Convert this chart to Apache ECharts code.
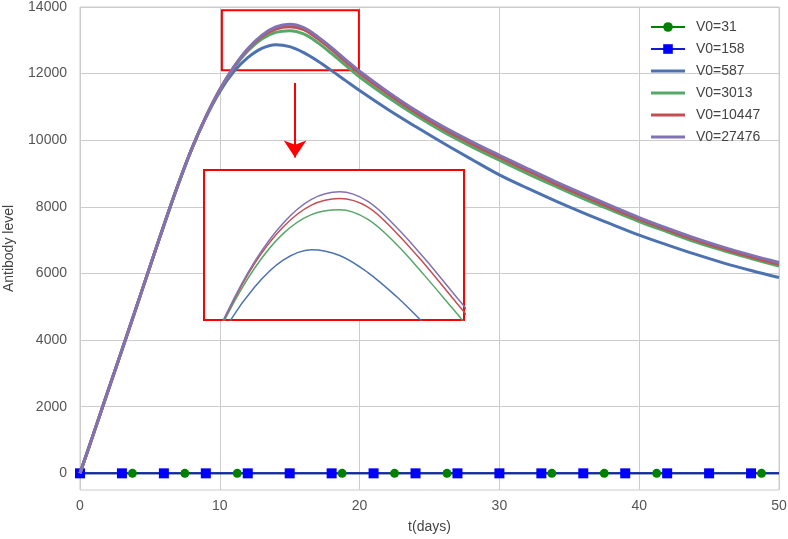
<!DOCTYPE html>
<html>
<head>
<meta charset="utf-8">
<script src="https://cdn.jsdelivr.net/npm/echarts@6/dist/echarts.min.js"></script>
<style>
  html, body { margin: 0; padding: 0; background: #fff; }
  #chart { width: 788px; height: 539px; }
</style>
</head>
<body>
<div id="chart"></div>
<script>
// time axis (days) for the smooth curves
const days = [0, 1, 2, 3, 4, 5, 6, 7, 8, 9, 10, 11, 12, 13, 14, 15, 16, 17, 18, 19, 20,
  22, 24, 26, 28, 30, 32, 34, 36, 38, 40, 42, 44, 46, 48, 50];

const v587 = [0, 1230, 2470, 3700, 4950, 6200, 7450, 8650, 9750, 10680, 11460, 12060, 12480, 12760, 12870, 12810,
  12630, 12380, 12090, 11790, 11490, 10930, 10410, 9910, 9430, 8960, 8560, 8180, 7820, 7480, 7150, 6860, 6580,
  6320, 6090, 5880];
const v3013 = [0, 1230, 2470, 3700, 4950, 6200, 7450, 8650, 9750, 10700, 11510, 12170, 12680, 13040, 13240, 13290,
  13190, 12930, 12600, 12250, 11900, 11300, 10750, 10250, 9810, 9400, 9000, 8620, 8250, 7900, 7560, 7250, 6950,
  6690, 6450, 6220];
const v10447 = [0, 1230, 2470, 3700, 4950, 6200, 7450, 8650, 9750, 10700, 11520, 12190, 12730, 13110, 13340, 13410,
  13320, 13050, 12720, 12360, 12010, 11400, 10840, 10340, 9900, 9490, 9090, 8700, 8330, 7970, 7630, 7310, 7010,
  6740, 6500, 6280];
const v27476 = [0, 1230, 2470, 3700, 4950, 6200, 7450, 8650, 9750, 10700, 11520, 12200, 12750, 13150, 13400, 13480,
  13380, 13110, 12780, 12420, 12070, 11460, 10900, 10400, 9960, 9550, 9150, 8760, 8390, 8030, 7680, 7360, 7060,
  6790, 6550, 6330];

// the two small doses stay at zero; markers sit on these days
const days31 = [0, 3.75, 7.5, 11.25, 15, 18.75, 22.5, 26.25, 30, 33.75, 37.5, 41.25, 45, 48.75, 50];
const v31 = [0, 0, 0, 0, 0, 0, 0, 0, 0, 0, 0, 0, 0, 0, 0];
const days158 = [0, 3, 6, 9, 12, 15, 18, 21, 24, 27, 30, 33, 36, 39, 42, 45, 48, 50];
const v158 = [0, 0, 0, 0, 0, 0, 0, 0, 0, 0, 0, 0, 0, 0, 0, 0, 0, 0];

const xTicks = [0, 10, 20, 30, 40, 50];
const yTicks = [0, 2000, 4000, 6000, 8000, 10000, 12000, 14000];

// zoom annotation (data units)
const zoomBox = [[10.15, 13900], [19.95, 12100]];
const arrowLine = [[15.38, 11720], [15.38, 9480]];
const insetX = [10.2, 19.4];
const insetY = [12130, 13710];

const font = 'Liberation Sans, Arial, sans-serif';
const gridColor = '#cccccc';
const colors = {
  v587: '#4C72B0',
  v3013: '#55A868',
  v10447: '#C44E52',
  v27476: '#8172B2'
};
const lineIcon = 'path://M0,0 L34,0 L34,3 L0,3 Z';

const pairs = (xs, ys) => xs.map((x, i) => [x, ys[i]]);
const markerPairs = (xs, ys) => xs.map((x, i) => (
  i === xs.length - 1 ? { value: [x, ys[i]], symbol: 'none' } : [x, ys[i]]
));

const chart = echarts.init(document.getElementById('chart'));

const curves = [
  { name: 'V0=587', data: v587, color: colors.v587 },
  { name: 'V0=3013', data: v3013, color: colors.v3013 },
  { name: 'V0=10447', data: v10447, color: colors.v10447 },
  { name: 'V0=27476', data: v27476, color: colors.v27476 }
];

const mainCurves = curves.map((c, i) => {
  const s = {
    name: c.name,
    type: 'line',
    xAxisIndex: 0,
    yAxisIndex: 0,
    data: pairs(days, c.data),
    smooth: 0.35,
    showSymbol: false,
    symbol: 'none',
    color: c.color,
    lineStyle: { width: 3, color: c.color },
    z: 3 + i
  };
  if (i === curves.length - 1) {
    s.markArea = {
      silent: true,
      itemStyle: { color: 'rgba(0,0,0,0)', borderColor: '#ff0000', borderWidth: 2 },
      data: [[{ coord: zoomBox[0] }, { coord: zoomBox[1] }]]
    };
    s.markLine = {
      silent: true,
      symbol: ['none', 'arrow'],
      symbolSize: 17,
      label: { show: false },
      lineStyle: { color: '#ff0000', width: 2, type: 'solid' },
      data: [[{ coord: arrowLine[0] }, { coord: arrowLine[1] }]]
    };
  }
  return s;
});

const insetCurves = curves.map((c, i) => ({
  name: c.name,
  type: 'line',
  xAxisIndex: 1,
  yAxisIndex: 1,
  data: pairs(days, c.data),
  smooth: 0.35,
  showSymbol: false,
  symbol: 'none',
  color: c.color,
  clip: true,
  lineStyle: { width: 1.5, color: c.color },
  z: 10 + i
}));

const option = {
  animation: false,
  backgroundColor: '#ffffff',
  textStyle: { fontFamily: font },
  legend: {
    orient: 'vertical',
    left: 645,
    top: 15,
    itemWidth: 34,
    itemHeight: 12,
    itemGap: 8,
    data: [
      { name: 'V0=31' },
      { name: 'V0=158' },
      { name: 'V0=587', icon: lineIcon },
      { name: 'V0=3013', icon: lineIcon },
      { name: 'V0=10447', icon: lineIcon },
      { name: 'V0=27476', icon: lineIcon }
    ],
    textStyle: { fontFamily: font, fontSize: 14, color: '#444', padding: [0, 0, 0, 6] }
  },
  grid: [
    {
      left: 80, top: 7, right: 9, bottom: 49,
      outerBoundsMode: 'none',
      containLabel: false,
      show: true, borderColor: gridColor, borderWidth: 1, backgroundColor: '#ffffff'
    },
    {
      left: 204, top: 170, width: 260, height: 150, z: 5,
      outerBoundsMode: 'none',
      containLabel: false,
      show: true, borderColor: '#ff0000', borderWidth: 2, backgroundColor: '#ffffff'
    }
  ],
  xAxis: [
    {
      type: 'value',
      gridIndex: 0,
      min: xTicks[0],
      max: xTicks[xTicks.length - 1],
      interval: 10,
      name: 't(days)',
      nameLocation: 'middle',
      nameGap: 30,
      nameTextStyle: { fontFamily: font, fontSize: 14, color: '#444' },
      axisLine: { show: false },
      axisTick: { show: false },
      axisLabel: { fontFamily: font, fontSize: 14, color: '#555', margin: 9 },
      splitLine: { show: true, lineStyle: { color: gridColor, width: 1 } }
    },
    {
      type: 'value', gridIndex: 1, min: insetX[0], max: insetX[1],
      show: false, splitLine: { show: false }
    }
  ],
  yAxis: [
    {
      type: 'value',
      gridIndex: 0,
      min: -500,
      max: yTicks[yTicks.length - 1],
      interval: 500,
      name: 'Antibody level',
      nameLocation: 'middle',
      nameGap: 64,
      nameTextStyle: { fontFamily: font, fontSize: 14, color: '#444' },
      axisLine: { show: false },
      axisTick: { show: false },
      axisLabel: {
        fontFamily: font, fontSize: 14, color: '#555', margin: 13,
        formatter: (v) => (yTicks.indexOf(v) >= 0 ? String(v) : '')
      },
      splitLine: {
        show: true,
        // only every 2000 gets a line: -500 | 0 | 500 | 1000 | 1500 | 2000 ...
        lineStyle: { color: ['rgba(0,0,0,0)', gridColor, 'rgba(0,0,0,0)', 'rgba(0,0,0,0)'], width: 1 }
      }
    },
    {
      type: 'value', gridIndex: 1, min: insetY[0], max: insetY[1],
      show: false, splitLine: { show: false }
    }
  ],
  series: [
    {
      name: 'V0=31',
      type: 'line',
      data: markerPairs(days31, v31),
      symbol: 'circle',
      symbolSize: 9,
      showAllSymbol: true,
      color: '#008000',
      itemStyle: { color: '#008000' },
      lineStyle: { width: 2, color: '#008000' },
      z: 2
    },
    {
      name: 'V0=158',
      type: 'line',
      data: markerPairs(days158, v158),
      symbol: 'rect',
      symbolSize: 10,
      showAllSymbol: true,
      color: '#0000ff',
      itemStyle: { color: '#0000ff' },
      lineStyle: { width: 2, color: '#1a1acc' },
      z: 2
    }
  ].concat(mainCurves, insetCurves)
};

chart.setOption(option);
</script>
</body>
</html>
